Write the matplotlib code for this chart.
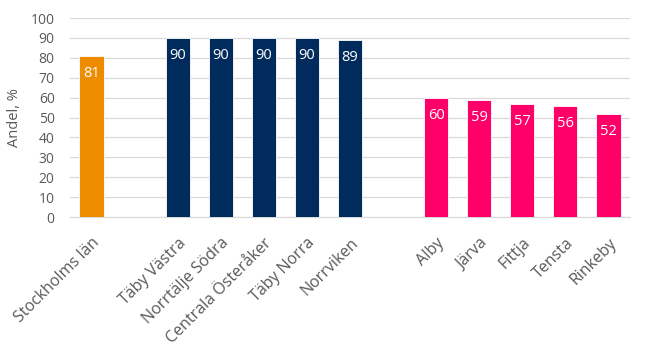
import matplotlib
matplotlib.use("Agg")
import matplotlib.pyplot as plt
import matplotlib.transforms as mtransforms
import numpy as np

group_a = ["Stockholms län"]
values_a = [81]
group_b = ["Täby Västra", "Norrtälje Södra", "Centrala Österåker", "Täby Norra", "Norrviken"]
values_b = [90, 90, 90, 90, 89]
group_c = ["Alby", "Järva", "Fittja", "Tensta", "Rinkeby"]
values_c = [60, 59, 57, 56, 52]
colors = ["#EE8C00", "#002B5C", "#FF0068"]
yticks = list(range(0, 101, 10))

plt.rcParams['font.family'] = ['Open Sans', 'DejaVu Sans']
fig = plt.figure(figsize=(6.5, 3.58), dpi=100)
ax = fig.add_axes([70/650, 1 - 217/358, 560/650, 199/358])

groups = [(group_a, values_a), (group_b, values_b), (group_c, values_c)]
labels_all = []
pos_all = []
start = 0
for (cats, vals), col in zip(groups, colors):
    pos = np.arange(start, start + len(cats))
    ax.bar(pos, vals, width=0.56, color=col, edgecolor="#FFFFFF", linewidth=0.6, zorder=3)
    for p, v in zip(pos, vals):
        ax.annotate(str(v), (p, v), xytext=(0, -18), textcoords="offset pixels",
                    ha="center", va="center", color="white", fontsize=10.5, zorder=4)
    labels_all += cats
    pos_all += list(pos)
    start += len(cats) + 1

ax.set_xlim(-0.5, pos_all[-1] + 0.5)
ax.set_ylim(0, 100)
ax.set_yticks(yticks)
ax.set_xticks(pos_all)
ax.set_xticklabels(labels_all, rotation=45, ha="right", rotation_mode="anchor", fontsize=11.5, color="#595959")
offset = mtransforms.ScaledTranslation(5/100, 0, fig.dpi_scale_trans)
for lab in ax.get_xticklabels():
    lab.set_transform(lab.get_transform() + offset)
ax.tick_params(axis="y", labelsize=10, colors="#595959", length=0, pad=11)
ax.tick_params(axis="x", length=0, pad=13)
ax.grid(axis="y", color="#D9D9D9", linewidth=0.9, zorder=0)
for s in ["top", "right", "left"]:
    ax.spines[s].set_visible(False)
ax.spines["bottom"].set_color("#D9D9D9")
ax.set_ylabel("Andel, %", fontsize=10.5, color="#595959")
ax.yaxis.set_label_coords(-0.085, 0.5)
fig.savefig("out.png", dpi=100)
